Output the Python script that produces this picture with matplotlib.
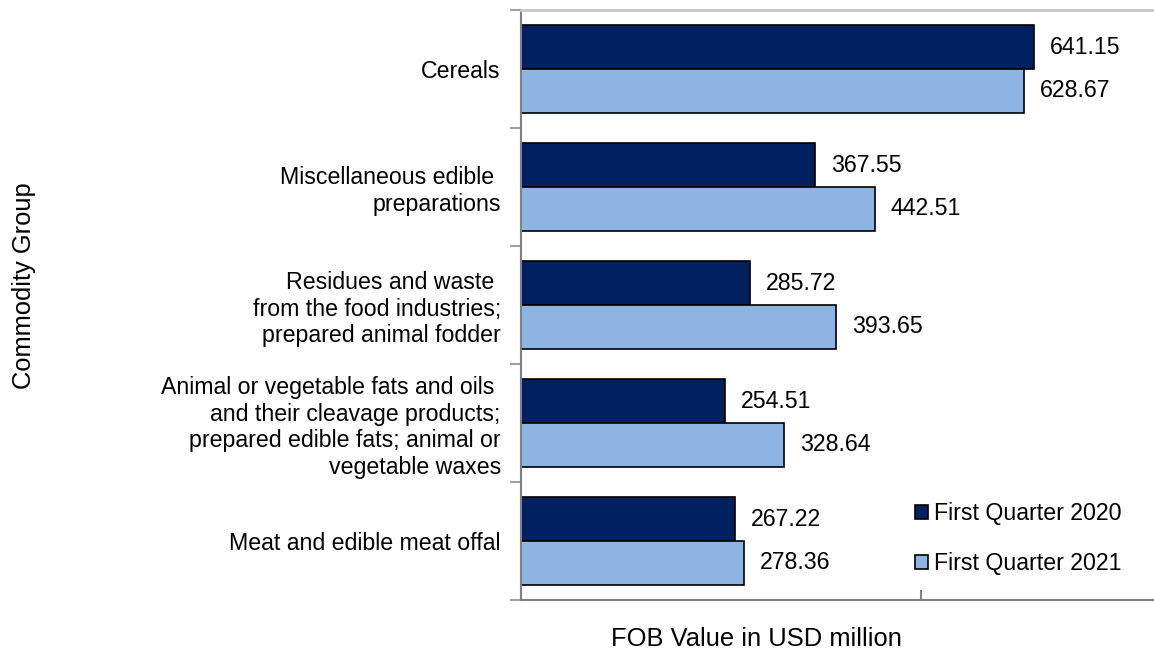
import matplotlib
matplotlib.use("Agg")
import matplotlib.pyplot as plt
import numpy as np

plt.rcParams['font.family'] = ['Liberation Sans', 'DejaVu Sans']

categories = [
    "Cereals",
    "Miscellaneous edible \npreparations",
    "Residues and waste \nfrom the food industries;\nprepared animal fodder",
    "Animal or vegetable fats and oils \nand their cleavage products;\nprepared edible fats; animal or\nvegetable waxes",
    "Meat and edible meat offal",
]
q1_2020 = [641.15, 367.55, 285.72, 254.51, 267.22]
q1_2021 = [628.67, 442.51, 393.65, 328.64, 278.36]
series_names = ["First Quarter 2020", "First Quarter 2021"]
colors = ["#002060", "#8DB4E2"]

FS = 16.7
FS_T = 18.4
W, H = 1154, 655
fig = plt.figure(figsize=(W / 100, H / 100), dpi=100)
ax = fig.add_axes([521 / W, 1 - 600 / H, 1 - 521 / W, (600 - 10) / H])

n = len(categories)
y = np.arange(n)
bh = 0.37
b1 = ax.barh(y - bh / 2, q1_2020, height=bh, color=colors[0], edgecolor='black',
             linewidth=1.2, label=series_names[0])
b2 = ax.barh(y + bh / 2, q1_2021, height=bh, color=colors[1], edgecolor='black',
             linewidth=1.2, label=series_names[1])

for bars, vals in ((b1, q1_2020), (b2, q1_2021)):
    for rect, v in zip(bars, vals):
        ax.annotate(f"{v:.2f}", xy=(rect.get_width(), rect.get_y() + rect.get_height() / 2),
                    xytext=(11.5, 0), textcoords='offset points', ha='left', va='center',
                    fontsize=FS, color='black')

ax.set_ylim(n - 0.5, -0.5)
ax.set_xlim(0, (W - 521) / 0.8)

ax.set_yticks(y)
ax.set_yticklabels(categories, fontsize=FS, ha='right', linespacing=1.2)
ax.tick_params(axis='y', which='major', length=0, pad=14.5)
ax.set_yticks(np.arange(-0.5, n, 1.0), minor=True)
ax.tick_params(axis='y', which='minor', length=8, width=1.5, color='#A0A0A0', direction='out')

ax.set_xticks([0, 500])
ax.set_xticklabels([])
ax.tick_params(axis='x', which='major', length=7, width=1.5, color='#808080', direction='in')

ax.spines['right'].set_visible(False)
ax.spines['top'].set_color('#C8C8C8')
ax.spines['top'].set_linewidth(2)
ax.spines['left'].set_color('#808080')
ax.spines['left'].set_linewidth(1.5)
ax.spines['bottom'].set_color('#808080')
ax.spines['bottom'].set_linewidth(1.5)

fig.text(756 / W, 1 - 646 / H, "FOB Value in USD million", ha='center', va='baseline', fontsize=FS_T)
fig.text(31 / W, 1 - 286 / H, "Commodity Group", ha='center', va='baseline', rotation=90,
         rotation_mode='anchor', fontsize=FS_T)

leg = ax.legend(loc='upper left', bbox_to_anchor=(915 / W, 1 - 502 / H),
                bbox_transform=fig.transFigure, frameon=False, fontsize=FS,
                handlelength=0.55, handleheight=0.55, handletextpad=0.25,
                labelspacing=1.17, borderaxespad=0, borderpad=0)

fig.savefig("out.png", dpi=100)
